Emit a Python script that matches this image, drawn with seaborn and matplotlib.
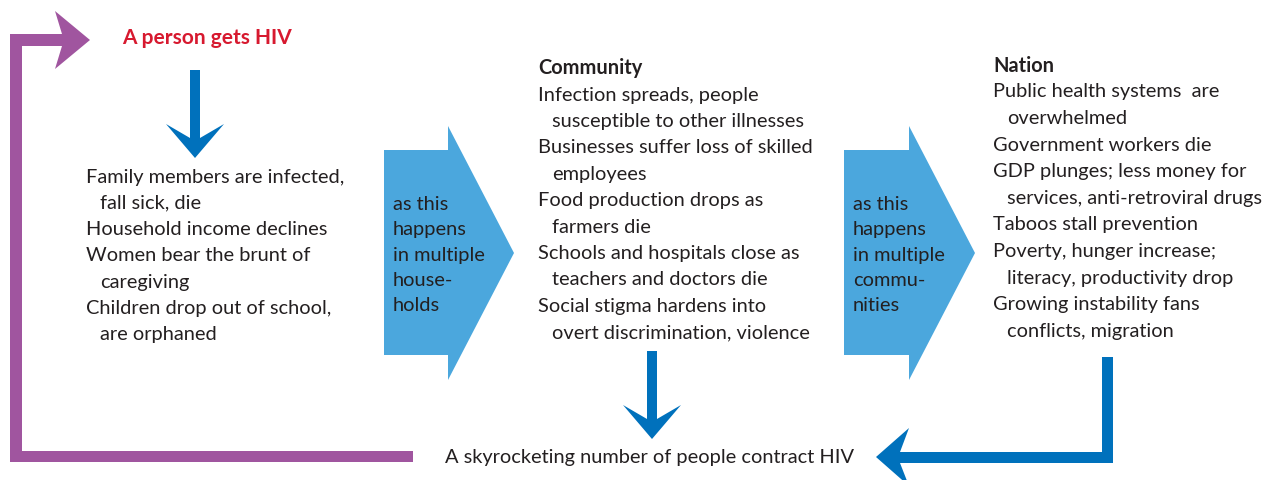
import numpy as np
import matplotlib
matplotlib.use("Agg")
import matplotlib.pyplot as plt
import seaborn as sns
from matplotlib.patches import Polygon

sns.set_theme(style="white")
plt.rcParams["font.family"] = ["Lato", "DejaVu Sans"]

# ---- content ----
start_label = "A person gets HIV"
end_label = "A skyrocketing number of people contract HIV"
household_items = [
    "Family members are infected,\nfall sick, die",
    "Household income declines",
    "Women bear the brunt of\ncaregiving",
    "Children drop out of school,\nare orphaned",
]
community_title = "Community"
community_items = [
    "Infection spreads, people\nsusceptible to other illnesses",
    "Businesses suffer loss of skilled\nemployees",
    "Food production drops as\nfarmers die",
    "Schools and hospitals close as\nteachers and doctors die",
    "Social stigma hardens into\novert discrimination, violence",
]
nation_title = "Nation"
nation_items = [
    "Public health systems  are\noverwhelmed",
    "Government workers die",
    "GDP plunges; less money for\nservices, anti-retroviral drugs",
    "Taboos stall prevention",
    "Poverty, hunger increase;\nliteracy, productivity drop",
    "Growing instability fans\nconflicts, migration",
]
chevron_labels = [
    "as this\nhappens\nin multiple\nhouse-\nholds",
    "as this\nhappens\nin multiple\ncommu-\nnities",
]

RED = "#d7192f"
PURPLE = "#a0559f"
DARK_BLUE = "#0071bc"
LIGHT_BLUE = "#4ba7dd"
TEXT = "#231f20"
FS = 14.4

fig = plt.figure(figsize=(12.62, 4.80), dpi=100)
ax = fig.add_axes([0, 0, 1, 1])
ax.set_xlim(0, 1262)
ax.set_ylim(480, 0)
ax.axis("off")


def poly(pts, color):
    ax.add_patch(Polygon(pts, closed=True, facecolor=color, edgecolor="none"))


def item_block(items, x, y0, step, indent=14):
    y = y0
    for item in items:
        for k, line in enumerate(item.split("\n")):
            ax.text(x + (indent if k else 0), y, line, fontsize=FS,
                    color=TEXT, va="center", ha="left")
            y += step


def down_arrow(cx, top, head_y, tip_y, half_shaft=5, half_wing=29, notch=14):
    poly([(cx - half_shaft, top), (cx + half_shaft, top),
          (cx + half_shaft, head_y + notch), (cx + half_wing, head_y),
          (cx, tip_y), (cx - half_wing, head_y),
          (cx - half_shaft, head_y + notch)], DARK_BLUE)


def chevron(x0, xh, xt, label):
    poly([(x0, 150), (xh, 150), (xh, 126), (xt, 253), (xh, 380),
          (xh, 355), (x0, 355)], LIGHT_BLUE)
    ax.text(x0 + 9, 255, label, fontsize=FS, color=TEXT, va="center",
            ha="left", linespacing=1.58)


# purple feedback loop
poly([(10, 462), (413, 462), (413, 451), (22, 451), (22, 46), (62, 46),
      (55, 69), (90, 40), (55, 11), (62, 34), (10, 34)], PURPLE)

# start label
ax.text(207, 38, start_label, fontsize=FS + 0.6, fontweight="bold", color=RED,
        ha="center", va="center")

# arrows down
down_arrow(195, 70, 124, 158)
down_arrow(652, 351, 405, 439)

# nation -> bottom arrow
poly([(1102, 357), (1113, 357), (1113, 463), (900, 463), (909, 486),
      (876, 457), (909, 428), (900, 452), (1102, 452)], DARK_BLUE)

# chevrons
chevron(384, 448, 514, chevron_labels[0])
chevron(844, 909, 975, chevron_labels[1])

# text columns
item_block(household_items, 86, 177, 26.3)
ax.text(538, 68, community_title, fontsize=FS, fontweight="bold",
        color=TEXT, va="center", ha="left")
item_block(community_items, 538, 95, 26.4)
ax.text(993, 66, nation_title, fontsize=FS, fontweight="bold",
        color=TEXT, va="center", ha="left")
item_block(nation_items, 993, 92, 26.6)

ax.text(445, 457, end_label, fontsize=FS, color=TEXT, va="center", ha="left")

fig.savefig("out.png", dpi=100)
